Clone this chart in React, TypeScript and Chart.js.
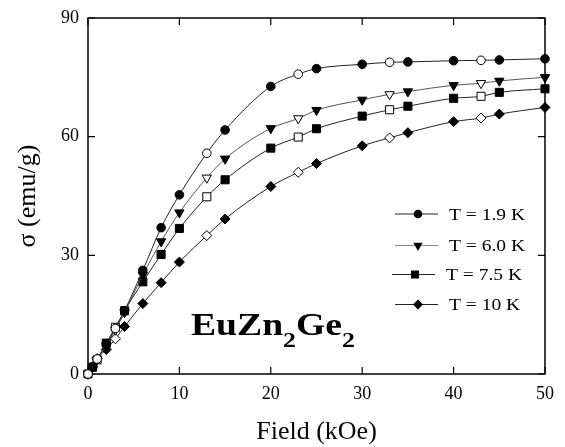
import React, { useEffect, useRef } from 'react';
import { Chart, registerables } from 'chart.js';

Chart.register(...registerables);

// ---- data ----
const fieldKOe = [0, 0.5, 1, 2, 3, 4, 6, 8, 10, 13, 15, 20, 23, 25, 30, 33, 35, 40, 43, 45, 50];
const openMarker = [true, false, true, false, true, false, false, false, false, true, false, false, true, false, false, true, false, false, true, false, false];
const sigmaT19 = [0, 1.8, 3.8, 7.5, 11.5, 16, 26.2, 37, 45.3, 55.8, 61.7, 72.7, 75.8, 77.2, 78.3, 78.8, 78.9, 79.2, 79.3, 79.4, 79.7];
const sigmaT60 = [0, 1.7, 3.6, 7.2, 11.2, 15.6, 25, 33.5, 40.8, 49.6, 54.4, 62.1, 64.6, 66.7, 69.3, 70.7, 71.4, 73, 73.5, 74.1, 75];
const sigmaT75 = [0, 1.7, 3.6, 7.8, 11.8, 16, 23.3, 30.2, 36.8, 44.8, 49.1, 57.1, 59.9, 62, 65.2, 66.8, 67.7, 69.7, 70.2, 71.2, 72.1];
const sigmaT10 = [0, 1.8, 3.9, 6.2, 8.9, 12, 17.8, 23.1, 28.3, 35, 39.2, 47.4, 51, 53.2, 57.7, 59.7, 61, 63.8, 64.7, 65.7, 67.4];
const seriesLabels = ['T = 1.9 K', 'T = 6.0 K', 'T = 7.5 K', 'T = 10 K'];
const xTickValues = [0, 10, 20, 30, 40, 50];
const yTickValues = [0, 30, 60, 90];
const xTitle = 'Field (kOe)';
const yTitle = 'σ (emu/g)';
const compoundParts = [
  { text: 'EuZn', sub: false },
  { text: '2', sub: true },
  { text: 'Ge', sub: false },
  { text: '2', sub: true },
];

const SERIF = "'Liberation Serif', 'Times New Roman', serif";

type MarkerKind = 'circle' | 'triDown' | 'square' | 'diamond';
const markerKinds: MarkerKind[] = ['circle', 'triDown', 'square', 'diamond'];
const lineColors = ['#222', '#555', '#222', '#222'];

function drawMarker(ctx: CanvasRenderingContext2D, kind: MarkerKind, x: number, y: number) {
  ctx.beginPath();
  if (kind === 'circle') {
    ctx.arc(x, y, 4.3, 0, Math.PI * 2);
  } else if (kind === 'triDown') {
    const r = 5.4;
    ctx.moveTo(x, y + r);
    ctx.lineTo(x - r * 0.866, y - r / 2);
    ctx.lineTo(x + r * 0.866, y - r / 2);
    ctx.closePath();
  } else if (kind === 'square') {
    ctx.rect(x - 4, y - 4, 8, 8);
  } else {
    const r = 5;
    ctx.moveTo(x, y - r);
    ctx.lineTo(x + r, y);
    ctx.lineTo(x, y + r);
    ctx.lineTo(x - r, y);
    ctx.closePath();
  }
  ctx.fillStyle = '#000';
  ctx.fill();
}

const framePlugin = {
  id: 'frameTicks',
  beforeDatasetsDraw(chart: any) {
    const { ctx, chartArea } = chart;
    const xs = chart.scales.x;
    const ys = chart.scales.y;
    ctx.save();
    ctx.strokeStyle = '#000';
    ctx.lineWidth = 1.5;
    ctx.strokeRect(chartArea.left, chartArea.top, chartArea.right - chartArea.left, chartArea.bottom - chartArea.top);
    ctx.lineWidth = 1.2;
    const tl = 7;
    ctx.beginPath();
    xTickValues.forEach((v) => {
      const px = xs.getPixelForValue(v);
      ctx.moveTo(px, chartArea.bottom);
      ctx.lineTo(px, chartArea.bottom - tl);
      ctx.moveTo(px, chartArea.top);
      ctx.lineTo(px, chartArea.top + tl);
    });
    yTickValues.forEach((v) => {
      const py = ys.getPixelForValue(v);
      ctx.moveTo(chartArea.left, py);
      ctx.lineTo(chartArea.left + tl, py);
      ctx.moveTo(chartArea.right, py);
      ctx.lineTo(chartArea.right - tl, py);
    });
    ctx.stroke();
    ctx.restore();
  },
  afterDraw(chart: any) {
    const { ctx } = chart;
    ctx.save();
    // legend
    const legendFont = `17px ${SERIF}`;
    ctx.font = legendFont;
    const sx = 76 / ctx.measureText(seriesLabels[0]).width;
    const rowY = [214, 245.5, 274.5, 304.5];
    const rowShift = [0, 0, -3, 0];
    seriesLabels.forEach((lab, i) => {
      const y = rowY[i];
      const s = rowShift[i];
      ctx.strokeStyle = i === 1 ? '#888' : '#222';
      ctx.lineWidth = 1;
      ctx.beginPath();
      ctx.moveTo(395 + s, y);
      ctx.lineTo(438 + s, y);
      ctx.stroke();
      drawMarker(ctx, markerKinds[i], 418 + s, y);
      ctx.save();
      ctx.translate(449 + s, y + 5.5);
      ctx.scale(sx, 1);
      ctx.fillStyle = '#000';
      ctx.font = legendFont;
      ctx.textBaseline = 'alphabetic';
      ctx.textAlign = 'left';
      ctx.fillText(lab, 0, 0);
      ctx.restore();
    });
    // compound label
    const bigFont = `bold 32px ${SERIF}`;
    const subFont = `bold 22px ${SERIF}`;
    let natural = 0;
    compoundParts.forEach((p) => {
      ctx.font = p.sub ? subFont : bigFont;
      natural += ctx.measureText(p.text).width;
    });
    const lsx = 164 / natural;
    ctx.save();
    ctx.translate(191, 335);
    ctx.scale(lsx, 1);
    ctx.fillStyle = '#000';
    ctx.textBaseline = 'alphabetic';
    ctx.textAlign = 'left';
    let cx = 0;
    compoundParts.forEach((p) => {
      ctx.font = p.sub ? subFont : bigFont;
      ctx.fillText(p.text, cx, p.sub ? 11.7 : 0);
      cx += ctx.measureText(p.text).width;
    });
    ctx.restore();
    ctx.restore();
  },
};

export default function App() {
  const canvasRef = useRef<HTMLCanvasElement | null>(null);

  useEffect(() => {
    document.body.style.margin = '0';
    const canvas = canvasRef.current;
    if (!canvas) return;
    const seriesValues = [sigmaT19, sigmaT60, sigmaT75, sigmaT10];
    const styles: any[] = [
      { pointStyle: 'circle', pointRadius: 4.3, pointRotation: 0 },
      { pointStyle: 'triangle', pointRadius: 5.4, pointRotation: 180 },
      { pointStyle: 'rect', pointRadius: 5.7, pointRotation: 0 },
      { pointStyle: 'rectRot', pointRadius: 5, pointRotation: 0 },
    ];
    const datasets = seriesValues.map((vals, i) => ({
      label: seriesLabels[i],
      data: fieldKOe.map((x, j) => ({ x, y: vals[j] })),
      borderColor: lineColors[i],
      borderWidth: 1,
      ...styles[i],
      pointBackgroundColor: openMarker.map((o) => (o ? '#fff' : '#000')),
      pointBorderColor: '#000',
      pointBorderWidth: 1,
      pointHoverRadius: styles[i].pointRadius,
      showLine: true,
      tension: 0.4,
      cubicInterpolationMode: 'monotone',
      clip: false,
      fill: false,
    }));

    const chart = new Chart(canvas, {
      type: 'scatter',
      data: { datasets },
      options: {
        responsive: false,
        animation: false,
        events: [],
        layout: { padding: { top: 14, right: 18, bottom: 0, left: 0 } },
        plugins: { legend: { display: false }, tooltip: { enabled: false } },
        scales: {
          x: {
            type: 'linear',
            min: 0,
            max: 50,
            afterFit: (s: any) => { s.height = 73; },
            afterBuildTicks: (s: any) => { s.ticks = xTickValues.map((v) => ({ value: v })); },
            ticks: { color: '#000', padding: 11, font: { family: SERIF, size: 18, lineHeight: 1 } },
            grid: { display: false, drawTicks: false },
            border: { display: false },
            title: { display: true, text: xTitle, color: '#000', font: { family: SERIF, size: 26, lineHeight: 1 }, padding: { top: 0, bottom: 2 } },
          },
          y: {
            type: 'linear',
            min: 0,
            max: 90,
            afterFit: (s: any) => { s.width = 88; },
            afterBuildTicks: (s: any) => { s.ticks = yTickValues.map((v) => ({ value: v })); },
            ticks: { color: '#000', padding: 9, font: { family: SERIF, size: 18, lineHeight: 1 } },
            grid: { display: false, drawTicks: false },
            border: { display: false },
            title: { display: true, text: yTitle, color: '#000', font: { family: SERIF, size: 26, lineHeight: 1 }, padding: { top: 15, bottom: 0 } },
          },
        },
      } as any,
      plugins: [framePlugin],
    });
    return () => chart.destroy();
  }, []);

  return (
    <div style={{ width: 565, height: 447, background: '#fff' }}>
      <canvas ref={canvasRef} width={565} height={447} style={{ display: 'block' }} />
    </div>
  );
}
